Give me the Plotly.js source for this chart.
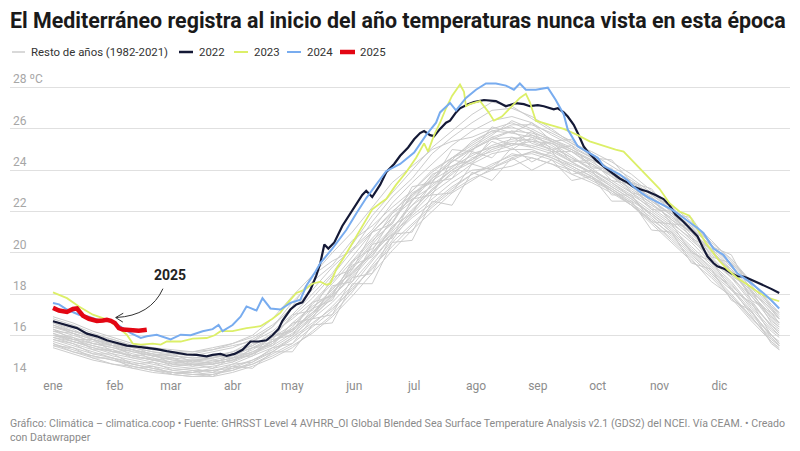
<!DOCTYPE html>
<html><head><meta charset="utf-8">
<script src="https://cdn.plot.ly/plotly-3.0.1.min.js"></script>
<style>html,body{margin:0;padding:0;background:#fff}#chart{width:800px;height:451px}</style>
</head><body><div id="chart"></div>
<script>
// ---- tick labels ----
const monthStarts = [0,31,59,90,120,151,181,212,243,273,304,334];
const monthLabels = ['ene','feb','mar','abr','may','jun','jul','ago','sep','oct','nov','dic'];
const yTicks = [14,16,18,20,22,24,26,28];
const yTickLabels = ['14','16','18','20','22','24','26','28 ºC'];

// ---- gray years (1982-2021), sampled days ----
const grayDays = [0,10,20,30,40,50,60,70,80,90,100,110,120,130,140,150,160,170,180,190,200,210,220,230,240,250,260,270,280,290,300,310,320,330,340,350,360,364];
const gray01 = [16.9,16.6,16.2,15.9,15.6,15.4,15.3,15.2,15.4,15.6,15.9,16.5,17.3,18.2,19.3,20.2,21.1,22.4,23.4,24.3,25.2,25.9,26.4,26.6,26.3,25.7,25.2,24.6,23.9,23.3,22.7,22.0,21.3,20.3,19.5,18.6,17.4,17.0];
const gray02 = [15.5,15.2,15.0,14.8,14.6,14.4,14.2,14.1,14.2,14.3,14.6,15.1,15.6,16.4,17.2,18.3,19.2,20.5,21.4,22.3,23.1,23.8,24.3,24.7,24.8,24.5,24.0,23.5,23.0,22.3,21.6,20.9,20.0,19.0,18.2,17.1,16.0,15.6];
const gray03 = [16.3,16.0,15.7,15.5,15.2,15.0,14.9,14.6,14.6,14.8,15.1,15.6,16.6,17.4,18.0,19.5,20.6,21.4,22.9,23.4,24.6,25.0,25.6,25.9,25.3,25.0,24.5,24.3,23.7,22.9,22.1,21.4,20.7,19.6,18.8,17.6,16.5,16.2];
const gray04 = [16.6,16.3,15.8,15.6,15.4,15.2,15.1,15.0,15.2,15.4,15.8,16.4,17.6,18.6,19.4,20.6,21.3,22.2,23.0,24.0,24.6,25.3,25.9,26.1,25.7,25.2,24.6,24.0,23.4,22.8,22.2,21.5,20.6,19.8,18.8,17.9,16.9,16.6];
const gray05 = [15.9,15.6,15.3,15.0,14.8,14.6,14.4,14.3,14.3,14.5,14.8,15.2,15.8,16.5,17.4,18.4,19.6,20.8,22.0,23.1,23.8,24.6,24.9,25.2,25.4,25.0,24.4,23.8,23.2,22.6,21.9,21.2,20.3,19.4,18.5,17.3,16.2,15.9];
const gray06 = [16.5,16.1,15.8,15.5,15.3,15.1,15.0,14.9,15.0,15.2,15.5,16.0,16.9,17.8,18.9,20.1,21.5,22.7,23.6,24.8,25.6,26.3,26.9,27.0,26.6,26.0,25.3,24.7,24.0,23.4,22.6,21.8,21.0,20.1,19.1,18.0,17.0,16.6];
const gray07 = [15.8,15.5,15.2,14.9,14.7,14.5,14.3,14.2,14.4,14.6,15.0,15.4,16.0,16.8,17.6,18.6,19.7,20.8,21.7,22.4,23.2,23.8,24.2,24.8,24.6,24.3,24.0,23.6,23.1,22.5,21.9,21.1,20.2,19.2,18.3,17.2,15.9,15.5];
const gray08 = [16.0,15.8,15.5,15.2,15.0,14.8,14.6,14.6,14.7,14.9,15.3,15.9,16.3,17.0,18.3,19.0,20.1,21.7,22.5,23.8,24.2,24.7,25.2,25.5,25.7,25.4,25.0,24.4,23.8,23.2,22.5,21.8,20.9,20.0,19.1,17.9,16.7,16.4];
const gray09 = [16.4,16.2,15.9,15.6,15.3,15.1,14.9,14.8,14.8,15.0,15.4,15.9,16.5,17.3,18.2,19.3,20.5,21.9,23.0,23.9,24.6,25.2,25.8,26.2,26.2,25.8,25.3,24.9,24.4,23.8,23.0,22.3,21.5,20.6,19.6,18.6,17.5,17.1];
const gray10 = [15.6,15.2,14.9,14.6,14.4,14.2,14.1,14.0,14.1,14.3,14.7,15.2,15.9,16.9,17.8,19.0,20.0,21.2,22.3,23.3,24.0,24.5,25.1,25.3,25.1,24.8,24.2,23.7,23.1,22.4,21.7,20.8,19.9,19.0,18.0,16.9,15.7,15.4];
const gray11 = [16.1,15.7,15.5,15.3,15.0,14.8,14.7,14.8,14.9,15.1,15.4,15.7,16.2,17.0,18.0,19.2,20.4,21.5,22.8,23.5,24.1,25.0,25.5,25.6,25.4,25.3,24.7,24.0,23.5,22.9,22.3,21.7,21.0,20.2,19.3,18.2,17.1,16.8];
const gray12 = [16.7,16.4,16.0,15.8,15.5,15.3,15.2,15.1,15.3,15.6,16.0,16.8,17.9,18.9,20.0,21.0,22.2,23.4,24.2,25.0,25.4,25.6,26.0,26.3,25.9,25.4,24.9,24.3,23.7,23.1,22.4,21.6,20.8,19.7,18.9,17.7,16.4,16.0];
const gray13 = [15.7,15.4,15.1,14.9,14.6,14.4,14.2,14.1,14.1,14.4,14.8,15.3,15.9,16.6,17.3,18.2,19.3,20.3,21.3,22.2,23.0,23.6,24.0,24.2,24.6,24.3,23.8,23.4,22.9,22.3,21.5,20.6,19.7,18.6,17.9,16.9,15.8,15.5];
const gray14 = [16.0,15.7,15.4,15.1,14.9,14.7,14.5,14.4,14.5,14.7,15.1,15.5,16.1,16.9,17.9,18.8,19.9,21.0,22.1,23.0,23.9,24.4,25.0,25.3,25.2,24.9,24.4,23.9,23.3,22.7,22.0,21.3,20.5,19.5,18.6,17.4,16.3,16.0];
const gray15 = [16.8,16.5,16.1,15.8,15.5,15.3,15.2,15.2,15.3,15.5,15.7,16.2,17.0,18.0,19.0,20.4,21.8,22.9,24.0,25.1,25.9,26.7,27.3,27.1,26.5,25.9,25.4,24.8,24.2,23.6,22.9,22.2,21.4,20.4,19.5,18.4,17.3,16.9];
const gray16 = [15.4,15.1,14.8,14.6,14.5,14.3,14.2,14.2,14.3,14.4,14.6,15.0,15.5,16.1,16.9,17.9,19.0,20.1,21.1,22.0,22.9,23.5,24.1,24.5,24.9,24.6,24.2,23.7,23.0,22.4,21.5,20.7,19.8,18.9,17.9,16.8,15.9,15.5];
const gray17 = [16.2,15.9,15.6,15.4,15.2,15.0,14.8,14.7,14.9,15.2,15.7,16.4,17.4,18.9,19.6,20.1,21.0,21.9,22.6,23.2,24.0,24.8,25.1,25.4,25.5,25.1,24.6,24.1,23.4,22.7,21.8,21.0,20.1,19.3,18.4,17.5,16.5,16.1];
const gray18 = [16.4,16.1,15.8,15.5,15.3,15.0,14.8,14.7,14.7,14.9,15.2,15.6,16.3,17.1,17.9,18.9,20.0,21.1,22.5,23.6,24.4,25.1,25.7,26.4,26.0,25.5,25.0,24.5,24.0,23.5,22.8,22.1,21.2,20.3,19.4,18.3,17.2,16.8];
const gray19 = [15.9,15.7,15.4,15.2,15.0,14.8,14.6,14.5,14.6,14.8,15.2,15.7,16.3,17.1,18.1,19.1,20.0,20.9,21.8,22.6,23.4,24.0,24.1,24.6,24.9,24.7,24.3,23.9,23.2,22.6,21.8,21.0,20.1,19.1,18.3,17.0,16.0,15.7];
const gray20 = [16.5,16.2,15.9,15.6,15.4,15.2,15.0,14.9,14.9,15.1,15.5,16.1,16.8,17.6,18.6,19.8,21.0,22.0,22.8,23.7,24.5,25.4,25.9,25.8,25.6,25.3,24.9,24.5,24.0,23.4,22.8,22.2,21.4,20.5,19.7,18.6,17.4,17.1];
const gray21 = [15.6,15.3,15.0,14.8,14.5,14.3,14.1,14.0,14.0,14.2,14.5,14.9,15.4,16.2,17.0,18.1,19.4,20.6,21.9,22.9,23.6,24.3,24.8,25.0,25.0,24.6,24.1,23.6,23.0,22.3,21.4,20.5,19.6,18.8,17.8,16.7,15.7,15.3];
const gray22 = [16.1,15.8,15.6,15.4,15.1,14.9,14.7,14.6,14.6,14.8,15.1,15.7,16.4,17.5,18.5,19.6,20.7,21.7,22.7,23.6,24.4,25.0,25.5,25.9,25.8,25.5,25.1,24.6,24.0,23.2,22.5,21.9,21.1,20.1,19.2,18.1,16.8,16.4];
const gray23 = [16.0,15.9,15.3,15.3,14.9,14.9,14.5,14.6,14.4,14.9,15.0,15.8,16.0,17.3,17.7,19.4,19.8,21.3,21.9,23.4,23.6,24.9,24.6,25.6,25.1,25.4,24.4,24.5,23.5,23.3,22.1,22.0,20.7,20.2,18.9,18.2,16.6,16.3];
const gray24 = [16.3,15.8,15.8,15.2,15.3,14.8,14.9,14.5,14.8,14.7,15.4,15.5,16.6,16.8,18.4,18.6,20.4,20.7,22.6,22.8,24.5,24.3,25.6,25.2,25.9,25.0,25.2,24.1,24.1,22.9,22.7,21.4,21.3,19.8,19.5,17.7,17.1,16.6];
const gray25 = [15.8,15.6,15.1,15.1,14.6,14.7,14.3,14.4,14.2,14.6,14.7,15.4,15.6,16.8,17.0,18.8,19.0,20.9,21.0,22.8,22.9,24.3,24.0,25.1,24.4,24.9,23.8,24.0,22.8,22.8,21.5,21.4,20.0,19.6,18.2,17.6,16.0,15.6];
const gray26 = [16.6,16.2,16.0,15.5,15.5,15.0,15.1,14.7,15.0,14.9,15.6,15.8,17.0,17.2,18.8,19.2,21.0,21.4,23.2,23.4,25.0,24.9,26.1,25.8,26.3,25.4,25.5,24.6,24.5,23.4,23.1,21.9,21.7,20.3,19.9,18.1,17.3,16.8];
const gray27 = [15.5,15.4,14.9,14.9,14.4,14.5,14.1,14.3,14.0,14.5,14.4,15.2,15.2,16.5,16.6,18.5,18.5,20.5,20.6,22.5,22.3,23.9,23.5,24.6,24.0,24.5,23.5,23.7,22.5,22.5,21.1,21.0,19.5,19.2,17.7,17.2,15.6,15.3];
const gray28 = [16.2,16.1,15.6,15.5,15.0,15.1,14.6,14.8,14.6,15.1,15.1,16.0,16.2,17.6,17.9,19.6,20.2,21.2,22.3,23.0,24.2,24.5,25.4,25.0,25.6,24.9,24.9,24.2,23.8,23.0,22.4,21.6,21.0,19.9,19.2,17.9,16.9,16.5];
const grayYears = [gray01,gray02,gray03,gray04,gray05,gray06,gray07,gray08,gray09,gray10,gray11,gray12,gray13,gray14,gray15,gray16,gray17,gray18,gray19,gray20,gray21,gray22,gray23,gray24,gray25,gray26,gray27,gray28];

// ---- 2022 ----
const days2022 = [0,7,12,17,22,27,32,37,42,47,52,57,62,67,72,77,80,84,87,91,95,99,103,107,110,113,115,119,122,125,129,132,134,136,138,141,145,149,152,155,157,160,164,167,171,174,178,181,184,186,189,191,194,197,199,202,204,208,211,216,222,227,232,236,239,243,246,251,253,256,258,261,263,266,268,272,277,281,284,288,291,295,298,302,306,309,312,316,320,323,326,328,331,333,337,340,343,346,348,351,354,357,360,364];
const temp2022 = [16.68,16.47,16.35,16.08,15.95,15.76,15.62,15.5,15.45,15.39,15.33,15.23,15.15,15.07,15.05,14.98,15.05,15.1,15.0,15.1,15.3,15.7,15.7,15.76,16.0,16.3,16.7,17.25,17.5,17.6,18.2,18.9,19.5,20.4,20.2,20.5,21.3,21.9,22.4,22.8,23.0,22.7,23.3,23.9,24.3,24.7,25.1,25.5,25.8,25.9,25.7,25.65,26.0,26.3,26.4,26.8,27.0,27.2,27.3,27.4,27.35,27.1,27.25,27.2,27.1,27.15,27.1,26.95,27.0,26.8,26.6,26.2,25.8,25.15,24.9,24.5,24.1,23.8,23.6,23.4,23.2,23.05,22.97,22.8,22.6,22.3,21.85,21.5,21.1,20.8,20.2,19.83,19.5,19.34,19.2,19.0,18.86,18.85,18.78,18.65,18.54,18.4,18.25,18.05];

// ---- 2023 ----
const days2023 = [0,7,13,20,27,32,37,40,44,50,54,57,64,70,77,81,84,90,97,104,110,114,117,122,126,130,134,137,139,142,146,149,152,155,160,164,167,172,177,182,186,188,191,194,197,200,204,206,207,209,214,218,221,225,230,234,237,239,242,245,249,256,263,269,274,278,282,286,291,294,298,304,309,314,319,324,327,331,334,338,343,348,354,359,364];
const temp2023 = [18.08,17.8,17.4,17.0,16.76,16.44,16.03,15.6,15.55,15.6,15.55,15.7,15.7,15.84,15.87,16.0,16.2,16.2,16.35,16.44,16.8,17.1,17.5,18.05,18.2,18.5,18.6,18.45,18.5,19.2,19.8,20.3,20.8,21.3,22.1,22.4,22.6,23.3,23.9,24.6,25.3,24.9,25.7,26.3,27.0,27.6,28.15,27.8,27.1,27.2,27.35,26.85,26.4,26.6,27.1,27.5,27.7,27.3,26.4,26.3,26.2,26.0,25.7,25.4,25.25,25.1,25.0,24.9,24.4,24.1,23.7,23.1,22.4,22.0,21.8,20.96,20.5,19.99,19.6,19.2,18.78,18.46,18.05,17.8,17.65];

// ---- 2024 ----
const days2024 = [0,3,7,13,18,24,29,34,39,44,47,52,56,59,64,69,75,80,83,85,90,94,97,102,105,109,114,119,124,127,131,134,140,147,152,157,162,167,174,181,187,192,194,197,199,202,207,212,217,222,227,231,234,237,242,248,252,256,258,263,268,273,276,280,284,288,291,295,298,302,306,310,313,319,323,326,331,336,340,343,349,353,356,360,364];
const temp2024 = [17.57,17.5,17.25,17.0,16.9,16.7,16.73,16.4,16.1,15.87,15.95,16.03,15.9,15.8,16.03,16.0,16.2,16.3,16.5,16.2,16.5,16.9,17.4,17.2,17.8,17.3,17.25,17.57,17.73,18.4,19.0,19.5,20.2,21.1,21.9,22.65,23.3,23.95,24.3,24.86,25.7,26.3,26.8,27.1,27.26,26.9,27.5,27.9,28.2,28.2,28.1,27.9,28.2,27.9,27.9,28.0,27.4,26.7,25.97,25.16,24.9,24.6,24.2,24.0,23.8,23.5,23.2,22.9,22.7,22.5,22.3,22.1,21.9,21.5,21.2,20.96,20.2,19.9,19.4,19.0,18.6,18.3,18.05,17.7,17.3];

// ---- 2025 ----
const days2025 = [0,3,7,10,12,13,15,18,22,25,27,29,31,33,35,40,43,47];
const temp2025 = [17.33,17.2,17.13,17.28,17.3,17.17,16.95,16.8,16.7,16.72,16.75,16.7,16.6,16.35,16.28,16.25,16.22,16.27];

const legendLabels = ['Resto de años (1982-2021)','2022','2023','2024','2025'];
const colors = {gray:'#cccccc', y2022:'#141936', y2023:'#dcef68', y2024:'#78acef', y2025:'#e30613'};

// ---- layout geometry (pixels) ----
const W=800,H=451,ML=10,MR=10,MT=67,MB=74;
const PW=W-ML-MR, PH=H-MT-MB;
const px2x = p => (p-ML)/PW;          // paper x
const py2y = p => (H-MB-p)/PH;        // paper y

const traces = [];
grayYears.forEach(g => traces.push({x:grayDays,y:g,type:'scatter',mode:'lines',line:{color:colors.gray,width:1},hoverinfo:'skip',showlegend:false}));
traces.push({x:days2022,y:temp2022,type:'scatter',mode:'lines',name:'2022',line:{color:colors.y2022,width:2.2},showlegend:false});
traces.push({x:days2023,y:temp2023,type:'scatter',mode:'lines',name:'2023',line:{color:colors.y2023,width:1.8},showlegend:false});
traces.push({x:days2024,y:temp2024,type:'scatter',mode:'lines',name:'2024',line:{color:colors.y2024,width:2},showlegend:false});
traces.push({x:days2025,y:temp2025,type:'scatter',mode:'lines',name:'2025',line:{color:colors.y2025,width:4.5},showlegend:false});

// manual legend
const legItems = [
  {x0:12,x1:25,tx:29,color:colors.gray,w:1.5},
  {x0:179,x1:193,tx:197,color:colors.y2022,w:2.5},
  {x0:234,x1:248,tx:252,color:colors.y2023,w:2},
  {x0:287,x1:301,tx:305,color:colors.y2024,w:2},
  {x0:340,x1:355,tx:358,color:colors.y2025,w:4.5}
];
const legY = 52;
const shapes = [];
const annotations = [];
legItems.forEach((it,i) => {
  shapes.push({type:'line',xref:'paper',yref:'paper',x0:px2x(it.x0),x1:px2x(it.x1),y0:py2y(legY),y1:py2y(legY),line:{color:it.color,width:it.w}});
  annotations.push({xref:'paper',yref:'paper',x:px2x(it.tx),y:py2y(legY),xanchor:'left',yanchor:'middle',text:legendLabels[i],showarrow:false,font:{family:'Roboto',size:11.4,color:'#333333'}});
});

// 2025 label with curved arrow
annotations.push({x:58.6,y:18.9,xref:'x',yref:'y',text:'<b>2025</b>',showarrow:false,font:{family:'Roboto',size:14,color:'#222222'}});
shapes.push({type:'path',xref:'x',yref:'y',path:'M 55.1,18.26 Q 49,16.95 31.6,16.86',line:{color:'#333333',width:1}});
shapes.push({type:'path',xref:'x',yref:'y',path:'M 35.2,17.07 L 31.4,16.86 L 35.0,16.64',line:{color:'#333333',width:1}});

// footer
annotations.push({xref:'paper',yref:'paper',x:px2x(8),y:py2y(415),xanchor:'left',yanchor:'top',align:'left',
  text:'Gráfico: Climática – climatica.coop • Fuente: GHRSST Level 4 AVHRR_OI Global Blended Sea Surface Temperature Analysis v2.1 (GDS2) del NCEI. Vía CEAM. • Creado<br>con Datawrapper',
  showarrow:false,font:{family:'Roboto',size:10.6,color:'#8a8a8a'}});

const layout = {
  width:W,height:H,margin:{l:ML,r:MR,t:MT,b:MB,pad:0},
  paper_bgcolor:'#ffffff',plot_bgcolor:'#ffffff',
  title:{text:'El Mediterráneo registra al inicio del año temperaturas nunca vista en esta época',x:10/W,xanchor:'left',xref:'container',y:1-21/H,yref:'container',yanchor:'middle',
    font:{family:'Roboto',size:21.4,weight:700,color:'#1a1a1a'}},
  showlegend:false,
  xaxis:{range:[-21.55,369.4],tickvals:monthStarts,ticktext:monthLabels,showgrid:false,zeroline:false,showline:false,ticks:'',
    tickfont:{family:'Roboto',size:12,color:'#8c8c8c'},fixedrange:true},
  yaxis:{range:[13.98,29.0],tickvals:yTicks,ticktext:yTickLabels,showgrid:true,gridcolor:'#e0e0e0',gridwidth:1,zeroline:false,showline:false,ticks:'',
    ticklabelposition:'inside top',tickfont:{family:'Roboto',size:12,color:'#a6a6a6'},fixedrange:true},
  shapes:shapes,annotations:annotations
};
Plotly.newPlot('chart',traces,layout,{displayModeBar:false,staticPlot:true});
</script></body></html>
